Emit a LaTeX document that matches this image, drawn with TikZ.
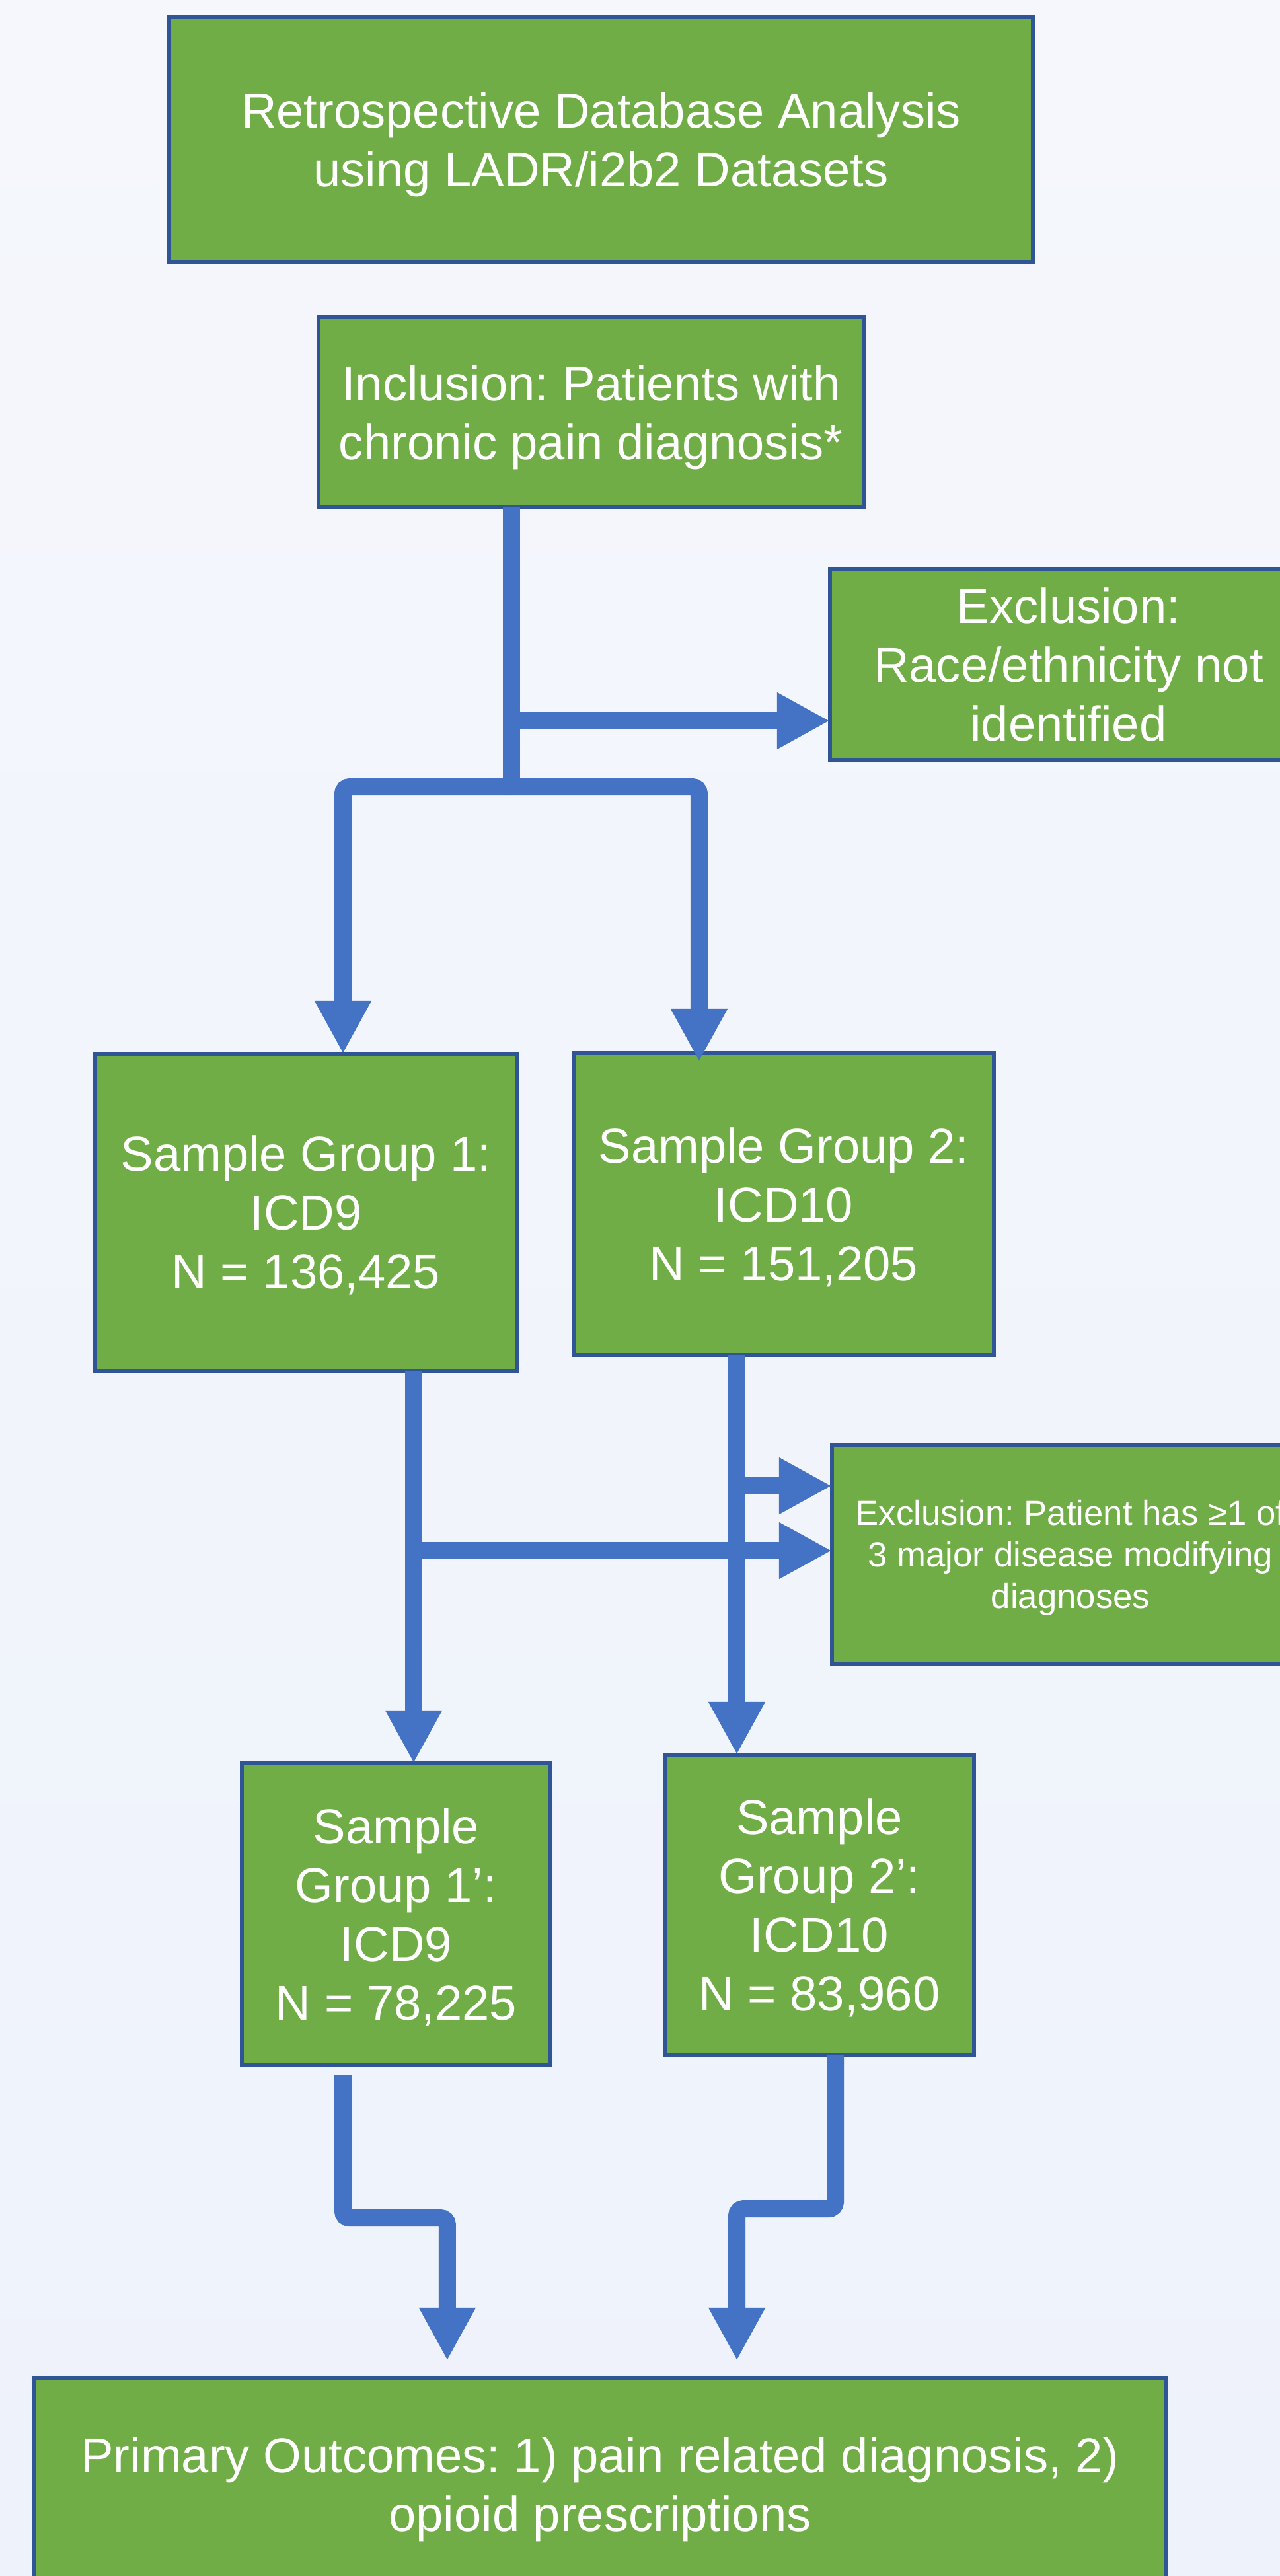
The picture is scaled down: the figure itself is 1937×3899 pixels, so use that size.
\documentclass[tikz,border=0pt]{standalone}
\usepackage{fontspec}
\setmainfont{Liberation Sans}
\usepackage{tikz}
\usetikzlibrary{arrows.meta}
\frenchspacing

\definecolor{boxgreen}{HTML}{70AD47}
\definecolor{boxedge}{HTML}{2F5597}
\definecolor{flowblue}{HTML}{4472C4}
\definecolor{bgtop}{HTML}{F5F7FC}
\definecolor{bgbottom}{HTML}{EEF2FB}

\begin{document}
\begin{tikzpicture}[x=0.01cm,y=-0.01cm,
    box/.style={draw=boxedge,fill=boxgreen,line width=1.7pt,text=white,align=center,
        inner sep=0pt,outer sep=0pt,font=\fontsize{21.1}{25.3}\selectfont,text depth=0pt},
    smalltext/.style={font=\fontsize{15}{17.9}\selectfont},
    pipe/.style={draw=flowblue,line width=0.26cm,rounded corners=0.1cm},
    flow/.style={pipe,-{Triangle[length=0.8cm,width=0.8cm]}}]
    \useasboundingbox (0,0) rectangle (1937,3899);
    \clip (0,0) rectangle (1937,3899);
    \shade[top color=bgtop,bottom color=bgbottom] (0,0) rectangle (1937,3899);

    % boxes
    \node[box,minimum width=13.07cm,minimum height=3.70cm] (db) at (909.5,211)
        {Retrospective Database Analysis\\using LADR/i2b2 Datasets};
    \node[box,minimum width=8.25cm,minimum height=2.88cm] (incl) at (894.5,624)
        {Inclusion: Patients with\\chronic pain diagnosis*};
    \node[box,minimum width=7.22cm,minimum height=2.89cm] (excl_1) at (1617,1005.5)
        {Exclusion:\\Race/ethnicity not\\identified};
    \node[box,minimum width=6.38cm,minimum height=4.80cm] (grp_1) at (463,1835)
        {Sample Group 1:\\ICD9\\N = 136,425};
    \node[box,minimum width=6.36cm,minimum height=4.57cm] (grp_2) at (1186,1822.5)
        {Sample Group 2:\\ICD10\\N = 151,205};
    \node[box,smalltext,minimum width=7.22cm,minimum height=3.31cm] (excl_2) at (1620,2352.5)
        {Exclusion: Patient has ≥1 of\\3 major disease modifying\\diagnoses};
    \node[box,minimum width=4.67cm,minimum height=4.57cm] (grp_1p) at (599.5,2897.5)
        {Sample\\Group 1’:\\ICD9\\N = 78,225};
    \node[box,minimum width=4.68cm,minimum height=4.55cm] (grp_2p) at (1240,2883.5)
        {Sample\\Group 2’:\\ICD10\\N = 83,960};
    \node[box,minimum width=17.12cm,minimum height=3.22cm] (outc) at (908,3760)
        {Primary Outcomes: 1) pain related diagnosis, 2)\\opioid prescriptions};

    % junctions
    \coordinate (tap_1) at (774,1091);
    \coordinate (fork_1) at (774,1191);
    \coordinate (mid_1) at (626,2347);
    \coordinate (mid_2) at (1115,2249);
    \coordinate (bend_1) at (519,3357);
    \coordinate (bend_2) at (1264,3343);

    % connectors
    \draw[pipe] (fork_1 |- incl.south) -- (fork_1);
    \draw[flow] (tap_1) -- (tap_1 -| excl_1.west);
    \draw[flow] (fork_1) -| ([xshift=0.56cm]grp_1.north);
    \draw[flow,shorten >=-0.13cm] (fork_1) -| ([xshift=-1.28cm]grp_2.north);

    \draw[flow] (mid_1 |- grp_1.south) -- (mid_1 |- grp_1p.north);
    \draw[flow] (mid_1) -- (mid_1 -| excl_2.west);
    \draw[flow] (mid_2 |- grp_2.south) -- (mid_2 |- grp_2p.north);
    \draw[flow] (mid_2) -- (mid_2 -| excl_2.west);

    \draw[flow,shorten <=0.14cm,shorten >=0.26cm] (bend_1 |- grp_1p.south) -- (bend_1)
        -| ([xshift=-2.31cm]outc.north);
    \draw[flow,shorten >=0.26cm] (bend_2 |- grp_2p.south) -- (bend_2)
        -| ([xshift=2.07cm]outc.north);
\end{tikzpicture}
\end{document}
